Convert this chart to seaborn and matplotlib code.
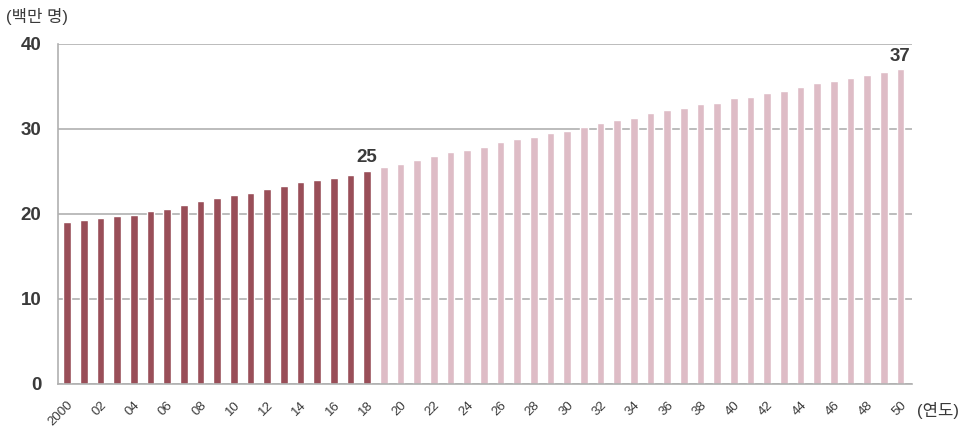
import pandas as pd
import matplotlib.pyplot as plt
import seaborn as sns

# Data (millions of people)
years = list(range(2000, 2051))
actual = [19.1, 19.3, 19.5, 19.8, 19.9, 20.4, 20.6, 21.0, 21.5, 21.9,
          22.2, 22.5, 22.9, 23.3, 23.7, 24.0, 24.2, 24.6, 25.0]
projected = [25.5, 25.9, 26.4, 26.8, 27.3, 27.5, 27.9, 28.4, 28.8, 29.1,
             29.5, 29.8, 30.2, 30.7, 31.1, 31.3, 31.9, 32.2, 32.4, 32.9,
             33.1, 33.6, 33.8, 34.2, 34.5, 34.9, 35.4, 35.6, 36.0, 36.3,
             36.7, 37.0]
tick_labels = ["2000"] + [f"{y % 100:02d}" for y in range(2002, 2051, 2)]

df = pd.DataFrame({
    "year": [str(y) for y in years],
    "value": actual + projected,
    "kind": ["actual"] * len(actual) + ["projected"] * len(projected),
})

sns.set_style("white")
plt.rcParams["font.family"] = ["Liberation Sans", "Noto Sans CJK KR", "DejaVu Sans"]

fig = plt.figure(figsize=(9.7, 4.3), dpi=100)
ax = fig.add_axes([0.0598, 0.107, 0.8804, 0.791])

sns.barplot(
    data=df, x="year", y="value", hue="kind",
    palette={"actual": "#a5424f", "projected": "#e4b6c4"},
    dodge=False, width=0.46, legend=False, ax=ax,
)

ax.set_ylim(0, 40)
ax.set_xlim(-0.54, 50.69)
ax.set_yticks([0, 10, 20, 30, 40])
ax.set_yticklabels(["0", "10", "20", "30", "40"], fontsize=13.5, fontweight="bold", color="#3a3a3a")
ax.yaxis.grid(True, color="#b0b0b0", linewidth=1.2)
ax.set_axisbelow(True)

ax.set_xticks(range(0, 51, 2))
ax.set_xticklabels(tick_labels, rotation=45, ha="right", rotation_mode="anchor",
                   fontsize=9.5, color="#3a3a3a")
ax.set_xticks(range(0, 51), minor=True)
ax.tick_params(axis="x", which="both", length=4, color="#999999", direction="out", pad=7)
ax.tick_params(axis="y", length=7, color="#b0b0b0", width=1.2, pad=5)

for s in ["top", "right"]:
    ax.spines[s].set_visible(False)
ax.spines["left"].set_color("#b0b0b0")
ax.spines["bottom"].set_color("#b0b0b0")
ax.spines["left"].set_linewidth(1.2)
ax.spines["bottom"].set_linewidth(1.2)

ax.set_xlabel("")
ax.set_ylabel("")

# value labels
ax.text(18, 25.6, "25", ha="center", va="bottom", fontsize=13.5, fontweight="bold", color="#3a3a3a")
ax.text(50, 37.5, "37", ha="center", va="bottom", fontsize=13.5, fontweight="bold", color="#3a3a3a")

fig.text(0.006, 0.962, "(백만 명)", fontsize=12, color="#3a3a3a", ha="left", va="center")
fig.text(0.945, 0.045, "(연도)", fontsize=12, color="#3a3a3a", ha="left", va="center")

plt.savefig("out.png", dpi=100)
plt.close()
